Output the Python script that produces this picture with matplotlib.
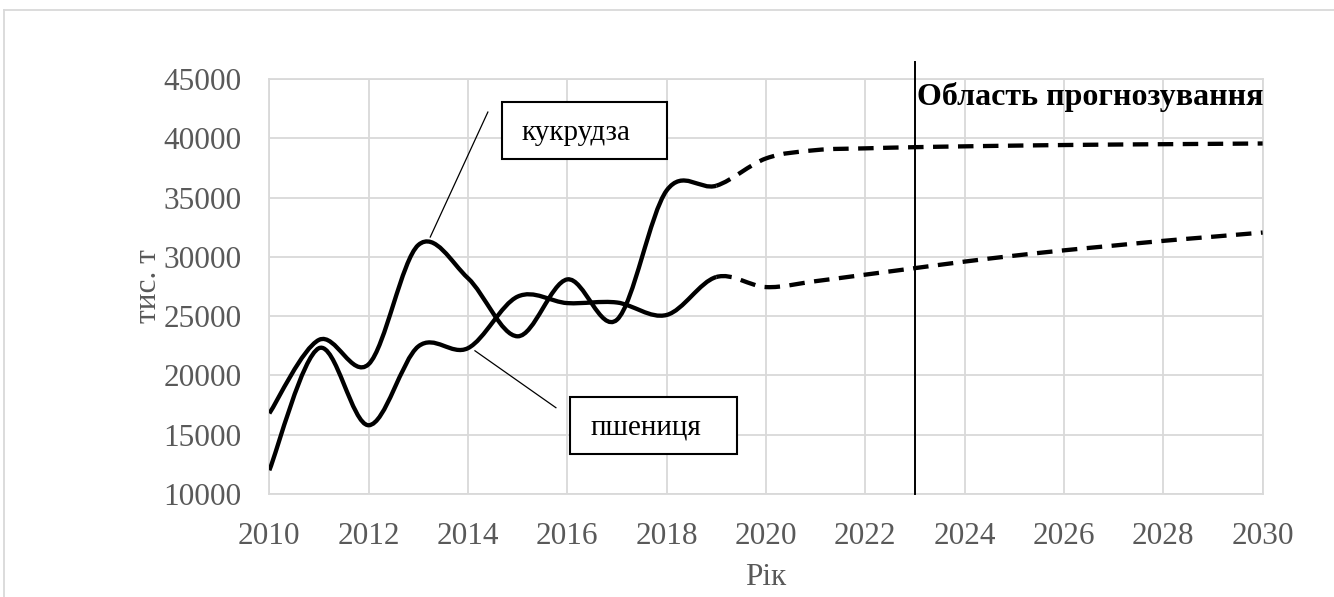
import matplotlib.pyplot as plt
from matplotlib.path import Path
from matplotlib.patches import PathPatch, Rectangle
from matplotlib.lines import Line2D

plt.rcParams['font.family'] = ['Liberation Serif', 'DejaVu Serif']

# Production, thousand tonnes: fact up to 2019, forecast after
years = list(range(2010, 2031))
corn = [16800, 23000, 20950, 31000, 28200, 23300, 28100, 24700, 35600, 36000,
        38300, 39000, 39150, 39250, 39320, 39380, 39430, 39470, 39500, 39530, 39560]
wheat = [12000, 22300, 15800, 22450, 22300, 26650, 26100, 26150, 25100, 28300,
         27450, 27950, 28500, 29050, 29600, 30100, 30550, 30950, 31350, 31700, 32050]
forecast_from = 2019
forecast_border = 2023

x_ticks = list(range(2010, 2031, 2))
y_ticks = list(range(10000, 45001, 5000))

grey = '#595959'
grid_grey = '#d9d9d9'


# smoothed line like in excel: cubic bezier through every point,
# control points taken from the neighbouring points
def smooth_path(x, y, i0, i1):
    n = len(x)
    verts = [(x[i0], y[i0])]
    codes = [Path.MOVETO]
    for i in range(i0, i1):
        p = max(i - 1, 0)
        q = min(i + 2, n - 1)
        verts.append((x[i] + (x[i + 1] - x[p]) / 6, y[i] + (y[i + 1] - y[p]) / 6))
        verts.append((x[i + 1] - (x[q] - x[i]) / 6, y[i + 1] - (y[q] - y[i]) / 6))
        verts.append((x[i + 1], y[i + 1]))
        codes += [Path.CURVE4] * 3
    return Path(verts, codes)


fig = plt.figure(figsize=(13.34, 5.97), dpi=100)
ax = fig.add_axes([0.2019, 0.1725, 0.7446, 0.6952])

k = years.index(forecast_from)
for series in (corn, wheat):
    ax.add_patch(PathPatch(smooth_path(years, series, 0, k), fill=False,
                           ec='black', lw=3.1, capstyle='butt', joinstyle='round', zorder=3))
    ax.add_patch(PathPatch(smooth_path(years, series, k, len(years) - 1), fill=False,
                           ec='black', lw=3.1, linestyle=(0, (3.6, 2.2)),
                           capstyle='butt', joinstyle='round', zorder=3))

ax.set_xlim(2010, 2030)
ax.set_ylim(10000, 45000)
ax.set_xticks(x_ticks)
ax.set_yticks(y_ticks)
ax.tick_params(length=0, labelsize=22.5, labelcolor=grey, pad=20)
ax.grid(True, color=grid_grey, lw=1.3)
ax.set_axisbelow(True)
for side in ('top', 'right', 'left', 'bottom'):
    ax.spines[side].set_color(grid_grey)
    ax.spines[side].set_linewidth(1.3)

ax.text(0.5, -0.2, 'Рік', transform=ax.transAxes, ha='center', va='center',
        fontsize=22.5, color=grey)
ax.text(-0.122, 0.5, 'тис. т', transform=ax.transAxes, ha='center', va='center',
        rotation=90, fontsize=22.5, color=grey)

# border of the forecast area
ax.plot([forecast_border, forecast_border], [10000, 46400], color='black', lw=1.4,
        clip_on=False, zorder=4)
ax.text(forecast_border + 0.05, 42800, 'Область прогнозування', ha='left', va='baseline',
        fontsize=23, fontweight='bold', color='black')

# callouts
ax.add_patch(Rectangle((0.2343, 0.8072), 0.1661, 0.1373, transform=ax.transAxes,
                       fill=True, fc='white', ec='black', lw=1.5, zorder=5, clip_on=False))
ax.text(0.2543, 0.853, 'кукрудза', transform=ax.transAxes, ha='left', va='baseline',
        fontsize=21, color='black', zorder=6)
ax.plot([2013.24, 2014.40], [31670, 42210], color='black', lw=0.9, zorder=4)

ax.add_patch(Rectangle((0.3028, 0.0964), 0.1678, 0.138, transform=ax.transAxes,
                       fill=True, fc='white', ec='black', lw=1.5, zorder=5, clip_on=False))
ax.text(0.3229, 0.1446, 'пшениця', transform=ax.transAxes, ha='left', va='baseline',
        fontsize=21, color='black', zorder=6)
ax.plot([2014.14, 2015.77], [22080, 17280], color='black', lw=0.9, zorder=4)

# frame round the whole chart
fig.add_artist(Line2D([0.003, 1.0], [0.983, 0.983], color=grid_grey, lw=1.3))
fig.add_artist(Line2D([0.003, 0.003], [0.0, 0.983], color=grid_grey, lw=1.3))

fig.savefig('out.png', dpi=100)
